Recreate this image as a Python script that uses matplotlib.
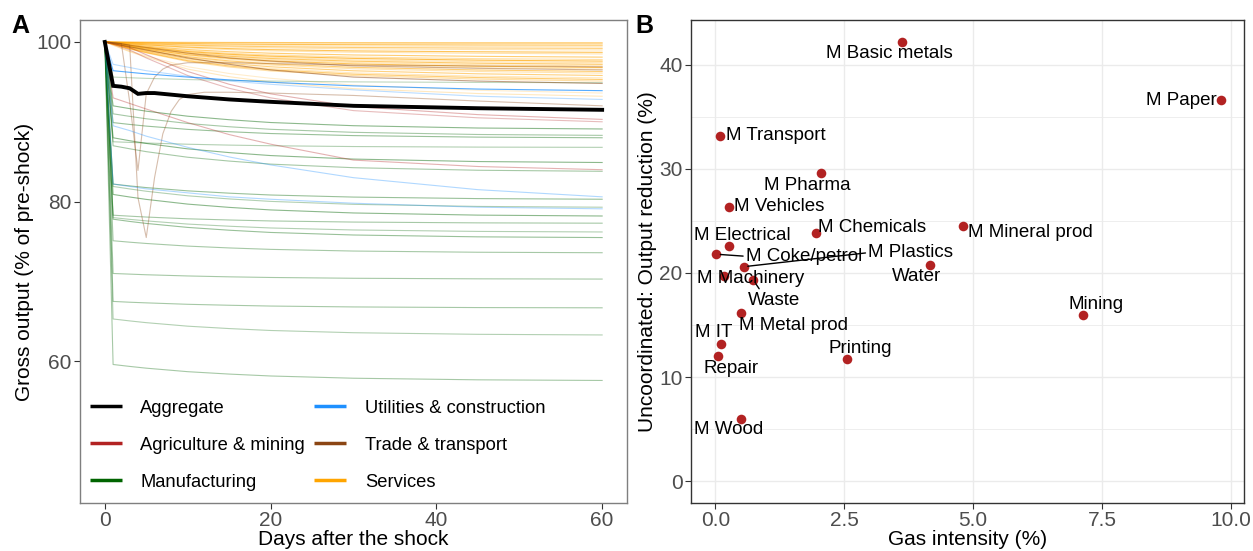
import numpy as np
import matplotlib
matplotlib.use("Agg")
import matplotlib.pyplot as plt
from matplotlib.lines import Line2D

plt.rcParams['font.family'] = ['Liberation Sans', 'DejaVu Sans']

# ---------------- panel A data ----------------
days = [0, 1, 3, 5, 10, 15, 20, 30, 45, 60]

services = [
    [100, 99.99, 99.98, 99.97, 99.95, 99.94, 99.93, 99.91, 99.90, 99.90],
    [100, 99.99, 99.96, 99.94, 99.90, 99.87, 99.85, 99.83, 99.81, 99.80],
    [100, 99.98, 99.93, 99.89, 99.80, 99.74, 99.70, 99.66, 99.62, 99.60],
    [100, 99.96, 99.89, 99.83, 99.70, 99.62, 99.56, 99.48, 99.43, 99.40],
    [100, 99.95, 99.86, 99.78, 99.60, 99.49, 99.41, 99.31, 99.24, 99.20],
    [100, 99.94, 99.82, 99.72, 99.50, 99.36, 99.26, 99.14, 99.05, 99.00],
    [100, 99.92, 99.77, 99.64, 99.35, 99.17, 99.04, 98.88, 98.77, 98.70],
    [100, 99.91, 99.73, 99.58, 99.25, 99.04, 98.89, 98.71, 98.58, 98.50],
    [100, 99.89, 99.66, 99.47, 99.05, 98.78, 98.59, 98.37, 98.20, 98.10],
    [100, 99.87, 99.60, 99.38, 98.90, 98.59, 98.37, 98.11, 97.91, 97.80],
    [100, 99.86, 99.57, 99.33, 98.80, 98.46, 98.22, 97.94, 97.72, 97.60],
    [100, 99.84, 99.53, 99.27, 98.70, 98.34, 98.08, 97.76, 97.53, 97.40],
    [100, 99.83, 99.50, 99.22, 98.60, 98.21, 97.93, 97.59, 97.34, 97.20],
    [100, 99.82, 99.46, 99.16, 98.50, 98.08, 97.78, 97.42, 97.15, 97.00],
    [100, 99.81, 99.42, 99.10, 98.40, 97.95, 97.63, 97.25, 96.96, 96.80],
    [100, 99.80, 99.39, 99.05, 98.30, 97.82, 97.48, 97.08, 96.77, 96.60],
    [100, 99.78, 99.33, 98.96, 98.15, 97.63, 97.26, 96.82, 96.49, 96.30],
    [100, 99.77, 99.30, 98.91, 98.05, 97.50, 97.11, 96.65, 96.30, 96.10],
    [100, 99.75, 99.24, 98.82, 97.90, 97.31, 96.89, 96.39, 96.01, 95.80],
    [100, 99.73, 99.19, 98.74, 97.75, 97.12, 96.67, 96.13, 95.72, 95.50],
    [100, 99.72, 99.15, 98.68, 97.65, 96.99, 96.52, 95.96, 95.54, 95.30],
    [100, 99.71, 99.12, 98.63, 97.55, 96.86, 96.37, 95.79, 95.35, 95.10],
    [100, 99.62, 98.86, 98.25, 96.90, 96.05, 95.45, 94.60, 93.95, 93.60],
    [100, 99.59, 98.78, 98.10, 96.60, 95.65, 94.97, 94.15, 93.54, 93.20],
]
services_alpha = [0.55, 0.3, 0.65, 0.25, 0.55, 0.3, 0.65, 0.3, 0.55, 0.35, 0.7, 0.3,
                  0.6, 0.3, 0.65, 0.25, 0.55, 0.3, 0.5, 0.25, 0.55, 0.35, 0.2, 0.25]

manufacturing = [
    [100, 95.6, 95.52, 95.44, 95.29, 95.18, 95.10, 95.00, 94.93, 94.90],
    [100, 92.0, 91.65, 91.33, 90.70, 90.26, 89.91, 89.51, 89.22, 89.10],
    [100, 91.0, 90.68, 90.38, 89.79, 89.38, 89.06, 88.68, 88.41, 88.30],
    [100, 89.9, 89.67, 89.46, 89.05, 88.76, 88.53, 88.27, 88.08, 88.00],
    [100, 87.5, 87.42, 87.34, 87.19, 87.08, 87.00, 86.90, 86.83, 86.80],
    [100, 88.0, 87.63, 87.29, 86.61, 86.14, 85.77, 85.33, 85.02, 84.90],
    [100, 87.0, 86.62, 86.26, 85.56, 85.08, 84.70, 84.25, 83.93, 83.80],
    [100, 82.2, 81.97, 81.76, 81.35, 81.06, 80.83, 80.57, 80.38, 80.30],
    [100, 81.9, 81.59, 81.30, 80.73, 80.34, 80.03, 79.66, 79.40, 79.30],
    [100, 80.9, 80.58, 80.28, 79.69, 79.28, 78.96, 78.58, 78.31, 78.20],
    [100, 78.3, 78.18, 78.07, 77.85, 77.70, 77.58, 77.44, 77.34, 77.30],
    [100, 78.0, 77.78, 77.59, 77.19, 76.92, 76.70, 76.45, 76.27, 76.20],
    [100, 77.8, 77.52, 77.27, 76.77, 76.42, 76.14, 75.82, 75.59, 75.50],
    [100, 75.1, 74.92, 74.76, 74.43, 74.20, 74.02, 73.81, 73.66, 73.60],
    [100, 71.0, 70.92, 70.84, 70.69, 70.58, 70.50, 70.40, 70.33, 70.30],
    [100, 67.5, 67.40, 67.32, 67.14, 67.02, 66.92, 66.81, 66.73, 66.70],
    [100, 65.3, 65.06, 64.84, 64.40, 64.10, 63.86, 63.58, 63.38, 63.30],
    [100, 59.6, 59.36, 59.14, 58.70, 58.40, 58.16, 57.88, 57.68, 57.60],
]
manufacturing_alpha = [0.25, 0.45, 0.35, 0.4, 0.3, 0.45, 0.35, 0.4, 0.3, 0.45,
                       0.35, 0.3, 0.4, 0.35, 0.35, 0.35, 0.3, 0.35]

utilities = [
    [100, 96.4, 96.2, 96.0, 95.6, 95.25, 94.95, 94.5, 94.1, 93.9],
    [100, 97.2, 96.8, 96.4, 95.7, 95.1, 94.7, 94.0, 93.2, 92.8],
    [100, 89.5, 88.9, 88.2, 86.8, 85.6, 84.6, 83.0, 81.5, 80.6],
    [100, 82.2, 81.9, 81.6, 81.1, 80.6, 80.3, 79.8, 79.3, 79.1],
]
utilities_alpha = [0.75, 0.3, 0.35, 0.35]

agriculture = [
    [100, 99.8, 99.3, 98.4, 96.3, 94.7, 93.5, 91.9, 90.9, 90.3],
    [100, 99.7, 99.0, 98.0, 95.8, 94.2, 93.0, 91.4, 90.5, 90.0],
    [100, 93.0, 92.3, 91.6, 89.9, 88.4, 87.2, 85.2, 84.4, 84.0],
]
agriculture_alpha = [0.35, 0.3, 0.35]

trade_days = [
    [0, 1, 2, 3, 4, 5, 6, 7, 8, 10, 15, 20, 30, 45, 60],
    [0, 1, 2, 3, 4, 5, 6, 7, 8, 9, 10, 12, 15, 20, 30, 45, 60],
    days,
    days,
]
trade = [
    [100, 99.9, 99.8, 92.5, 83.9, 93.5, 95.6, 96.6, 97.1, 97.4, 97.4, 97.3, 97.1, 97.0, 96.9],
    [100, 99.9, 99.8, 99.6, 80.5, 75.5, 83.0, 88.5, 91.3, 92.8, 93.4, 93.7, 93.7, 93.6, 93.3, 92.6, 92.0],
    [100, 99.8, 99.4, 99.0, 98.0, 97.2, 96.5, 95.6, 95.1, 94.8],
    [100, 99.9, 99.6, 99.3, 98.6, 98.0, 97.6, 97.0, 96.7, 96.5],
]
trade_alpha = [0.35, 0.35, 0.5, 0.4]

agg_days = [0, 1, 2, 3, 4, 5, 6, 8, 10, 15, 20, 30, 45, 60]
aggregate = [100, 94.5, 94.4, 94.2, 93.5, 93.6, 93.6, 93.4, 93.2, 92.8, 92.5, 92.0, 91.7, 91.5]

# ---------------- panel B data ----------------
sectors = ["M Basic metals", "M Paper", "M Transport", "M Pharma", "M Vehicles",
           "M Chemicals", "M Mineral prod", "M Electrical", "M Coke/petrol",
           "M Plastics", "Water", "M Machinery", "Waste", "M Metal prod",
           "Mining", "M IT", "Repair", "Printing", "M Wood"]
gas_intensity = [3.62, 9.80, 0.10, 2.05, 0.27, 1.95, 4.80, 0.26, 0.02, 0.55,
                 4.16, 0.16, 0.74, 0.50, 7.12, 0.11, 0.06, 2.56, 0.50]
output_reduction = [42.2, 36.6, 33.2, 29.6, 26.3, 23.8, 24.5, 22.6, 21.8, 20.6,
                    20.8, 19.7, 19.3, 16.2, 15.95, 13.2, 12.0, 11.7, 6.0]
# repelled label positions (data coordinates)
label_x = [3.37, 9.03, 1.18, 1.78, 1.24, 3.04, 6.10, 0.52, 1.72, 3.79,
           3.91, 0.68, 1.14, 1.51, 7.38, -0.04, 0.31, 2.81, 0.25]
label_y = [41.1, 36.6, 33.2, 28.4, 26.4, 24.35, 23.85, 23.6, 21.6, 21.95,
           19.7, 19.45, 17.4, 14.95, 16.97, 14.3, 10.85, 12.75, 5.0]
leader = {"M Coke/petrol": (0.0, 0.5), "M Plastics": (0.0, 0.5), "Waste": (0.25, 1.0)}

C_AGG = "black"
C_AGR = "#B22222"
C_MAN = "#006400"
C_UTI = "#1E90FF"
C_TRA = "#8B4513"
C_SER = "#FFA500"
TICK_C = "#4D4D4D"

fig = plt.figure(figsize=(12.53, 5.51), dpi=100)
axA = fig.add_axes([0.0638, 0.0871, 0.4366, 0.8766])
axB = fig.add_axes([0.5515, 0.0871, 0.4413, 0.8766])

lw = 0.8
for vals, a in zip(services, services_alpha):
    axA.plot(days, vals, color=C_SER, lw=lw, alpha=a)
for vals, a in zip(manufacturing, manufacturing_alpha):
    axA.plot(days, vals, color=C_MAN, lw=lw, alpha=a)
for vals, a in zip(agriculture, agriculture_alpha):
    axA.plot(days, vals, color=C_AGR, lw=lw, alpha=a)
for d, vals, a in zip(trade_days, trade, trade_alpha):
    axA.plot(d, vals, color=C_TRA, lw=lw, alpha=a)
for vals, a in zip(utilities, utilities_alpha):
    axA.plot(days, vals, color=C_UTI, lw=lw, alpha=a)
axA.plot(agg_days, aggregate, color=C_AGG, lw=2.8, solid_joinstyle='miter')

axA.set_xlim(-3, 63)
axA.set_ylim(42.25, 102.75)
axA.set_xticks([0, 20, 40, 60])
axA.set_yticks([60, 80, 100])
axA.set_xlabel("Days after the shock", fontsize=15, labelpad=0)
axA.set_ylabel("Gross output (% of pre-shock)", fontsize=15, labelpad=2)
for s in axA.spines.values():
    s.set_color("#7F7F7F")
    s.set_linewidth(1.0)

handles = [Line2D([], [], color=c, lw=2.5, solid_capstyle='butt') for c in
           [C_AGG, C_AGR, C_MAN, C_UTI, C_TRA, C_SER]]
labels = ["Aggregate", "Agriculture & mining", "Manufacturing",
          "Utilities & construction", "Trade & transport", "Services"]
axA.legend(handles, labels, ncol=2, loc="lower left", bbox_to_anchor=(0.0, 0.005),
           frameon=False, fontsize=13.2, handlelength=1.75, handletextpad=1.0,
           labelspacing=1.08, columnspacing=0.5, borderaxespad=0.15)

# panel B
axB.set_axisbelow(True)
axB.set_xlim(-0.47, 10.25)
axB.set_ylim(-2.1, 44.3)
axB.set_xticks([0, 2.5, 5, 7.5, 10])
axB.set_xticklabels(["0.0", "2.5", "5.0", "7.5", "10.0"])
axB.set_yticks([0, 10, 20, 30, 40])
axB.set_yticks([5, 15, 25, 35], minor=True)
axB.grid(True, which="major", color="#EBEBEB", lw=1.0)
axB.grid(True, which="minor", axis="y", color="#EBEBEB", lw=0.6)
axB.tick_params(which="minor", length=0)
axB.scatter(gas_intensity, output_reduction, s=48, color=C_AGR, zorder=3, linewidths=0)
for name, gx, gy, lx, ly in zip(sectors, gas_intensity, output_reduction, label_x, label_y):
    if name in leader:
        axB.annotate(name, xy=(gx, gy), xytext=(lx, ly), ha="center", va="center",
                     fontsize=13.5, zorder=4,
                     arrowprops=dict(arrowstyle="-", color="black", lw=1.0,
                                     relpos=leader[name], shrinkA=0, shrinkB=3))
    else:
        axB.text(lx, ly, name, ha="center", va="center", fontsize=13.5, zorder=4)
axB.set_xlabel("Gas intensity (%)", fontsize=15, labelpad=0)
axB.set_ylabel("Uncoordinated: Output reduction (%)", fontsize=15, labelpad=2)
for s in axB.spines.values():
    s.set_color("#333333")
    s.set_linewidth(1.0)

for ax in (axA, axB):
    ax.tick_params(which="major", labelsize=15, labelcolor=TICK_C, color="#333333",
                   length=4, width=0.8, pad=2)

fig.text(0.009, 0.953, "A", fontsize=18, fontweight="bold", va="center")
fig.text(0.507, 0.953, "B", fontsize=18, fontweight="bold", va="center")

fig.savefig("out.png", dpi=100)
